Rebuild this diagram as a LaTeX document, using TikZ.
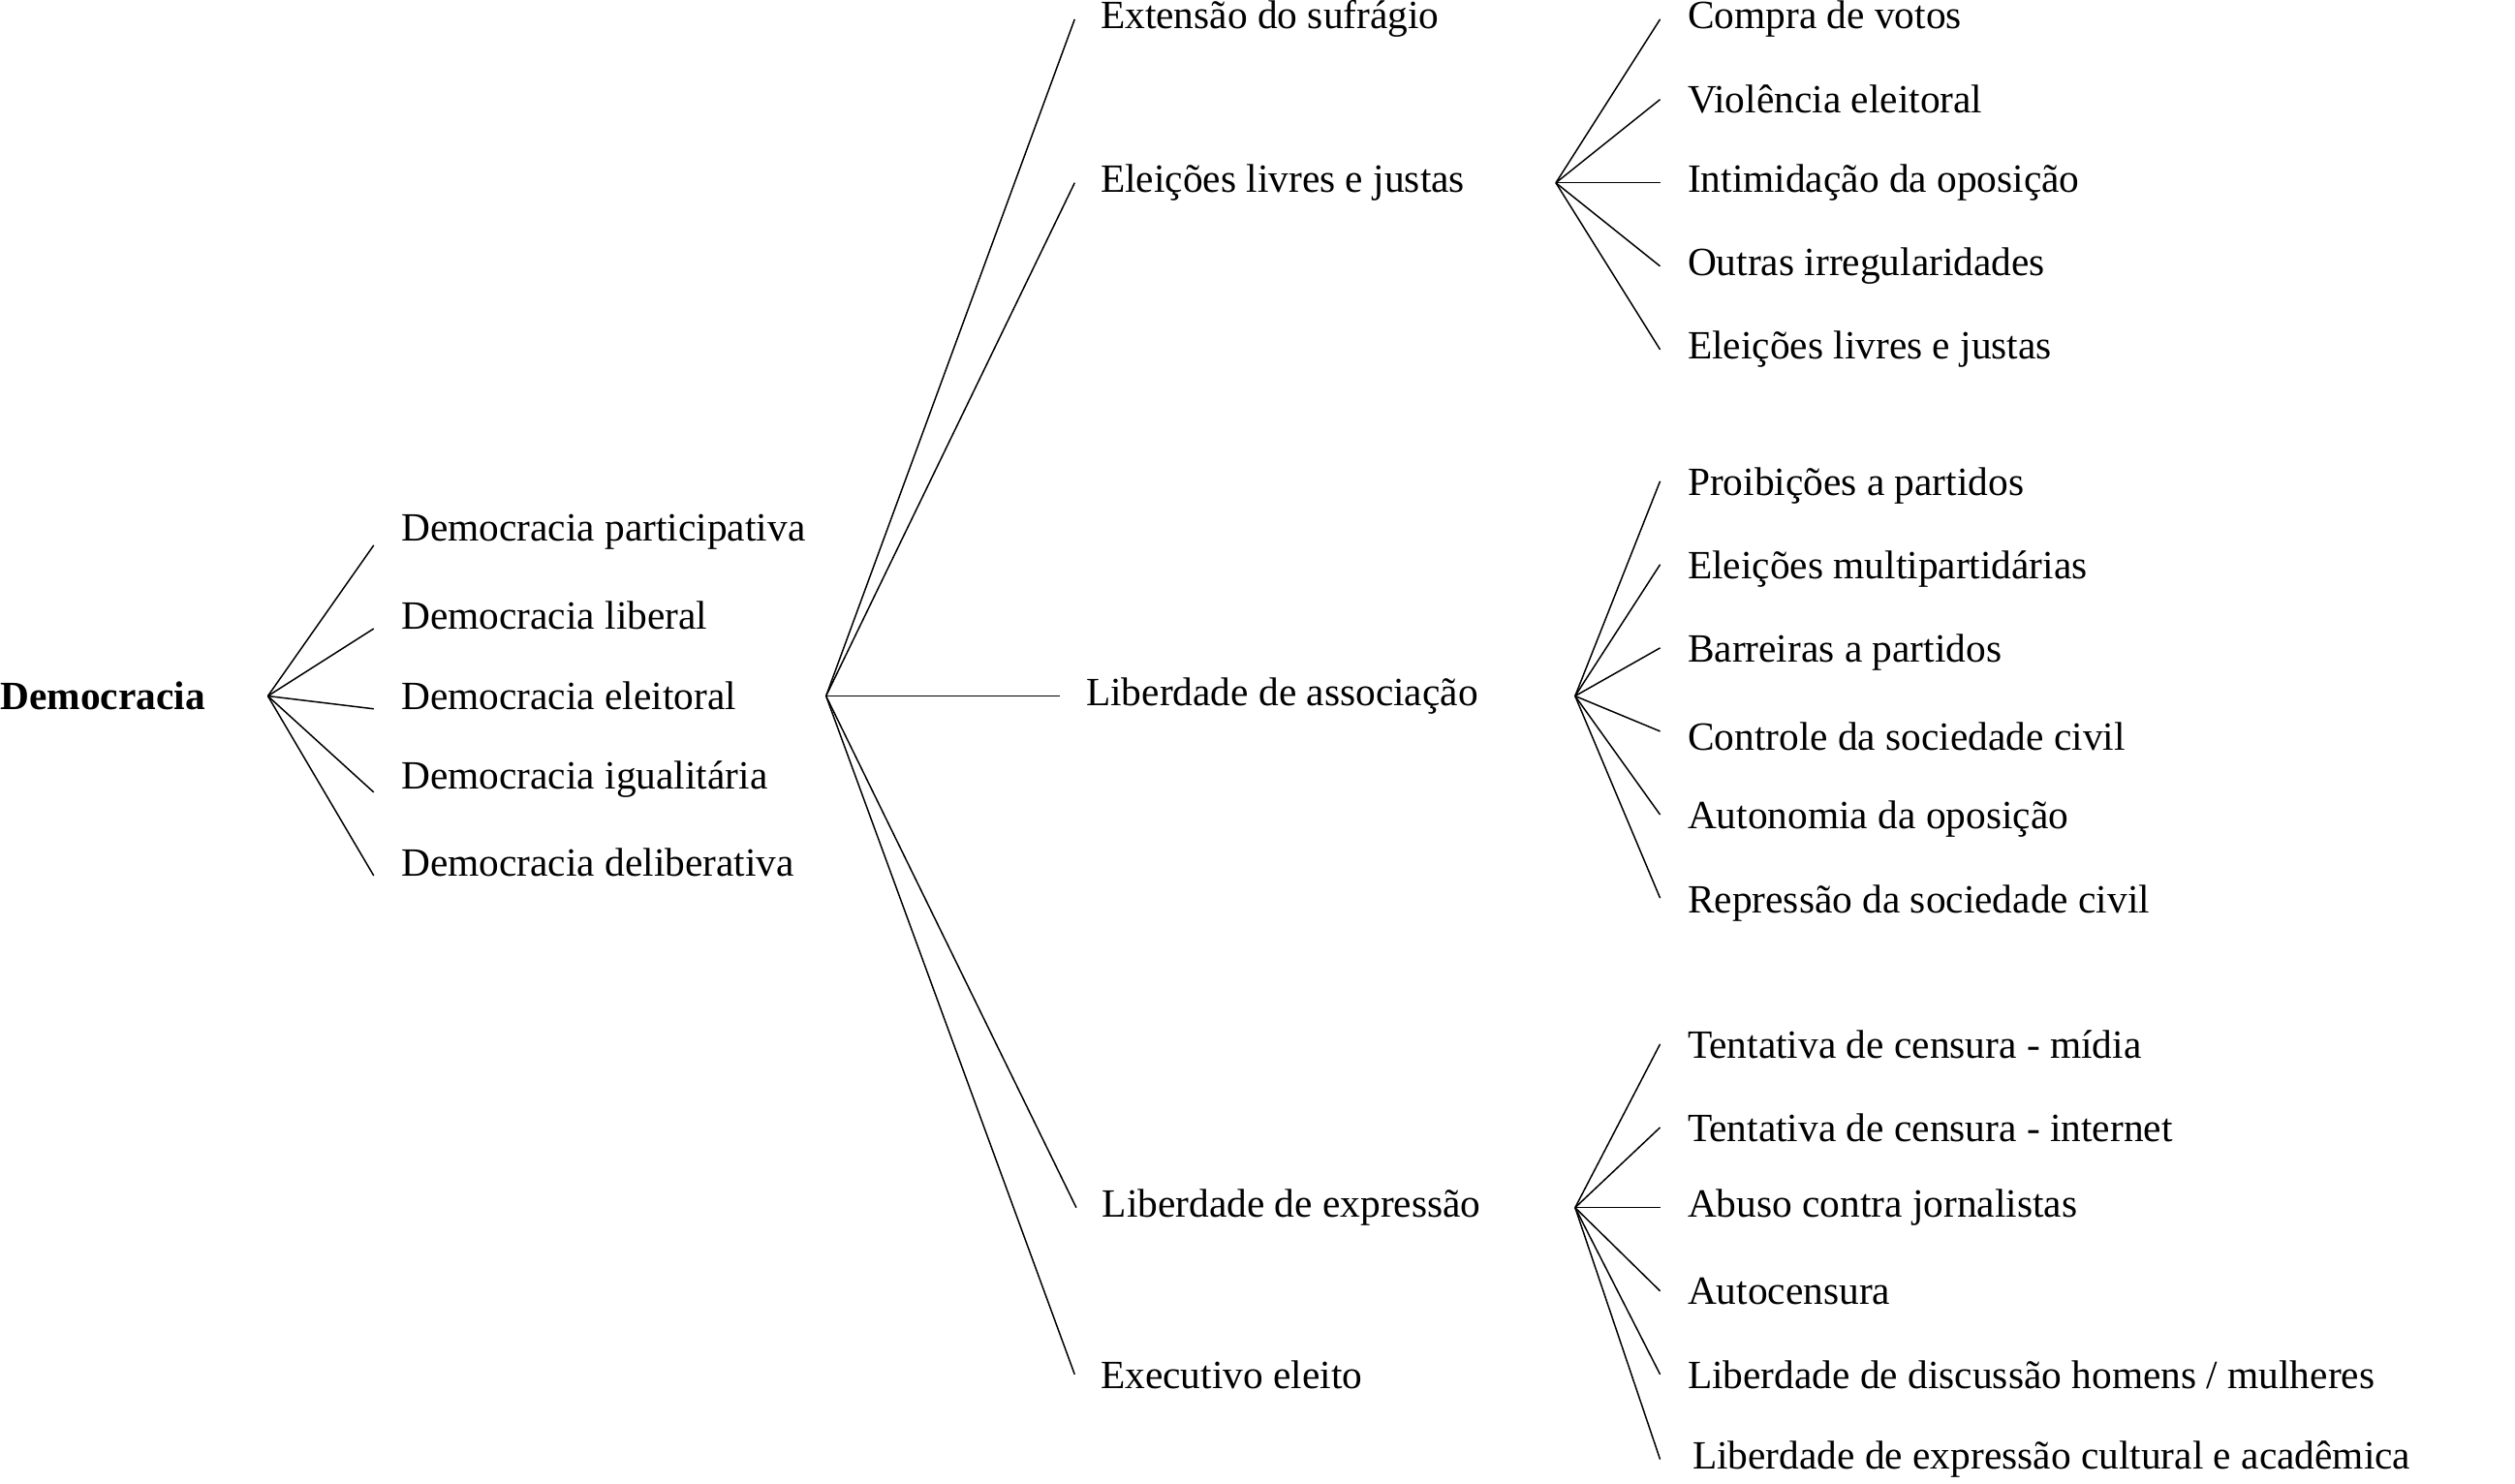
\documentclass[tikz,border=0pt]{standalone}
\usepackage{fontspec}
\setmainfont{Liberation Serif}
\begin{document}
\begin{tikzpicture}[x=1pt,y=-1pt,
  lab/.style={anchor=west,inner sep=0pt,font=\fontsize{25}{28}\selectfont},
  edge/.style={line width=0.9pt}]
\useasboundingbox (0,0) rectangle (1568,925);
\node[lab,font=\fontsize{25}{28}\selectfont\bfseries] (root) at (0,434) {Democracia};
\coordinate (f0) at (167,434);
\node[lab] (a1) at (250,332) {Democracia participativa};
\node[lab] (a2) at (250,384) {Democracia liberal};
\node[lab] (a3) at (250,434) {Democracia eleitoral};
\node[lab] (a4) at (250,486) {Democracia igualitária};
\node[lab] (a5) at (250,538) {Democracia deliberativa};
\foreach \n in {a1,a2,a3,a4,a5} \draw[edge] (f0) -- ([xshift=-17pt,yshift=-8pt]\n.west);
\coordinate (f1) at (515,434);
\node[lab] (b1) at (686,12) {Extensão do sufrágio};
\node[lab] (b2) at (686,114) {Eleições livres e justas};
\node[lab] (b3) at (677,434) {Liberdade de associação};
\node[lab] (b4) at (687,753) {Liberdade de expressão};
\node[lab] (b5) at (686,857) {Executivo eleito};
\foreach \n in {b1,b2,b3,b4,b5} \draw[edge] (f1) -- ([xshift=-16pt]\n.west);
\coordinate (f2) at (970,114);
\node[lab] (c1) at (1052,12) {Compra de votos};
\node[lab] (c2) at (1052,62) {Violência eleitoral};
\node[lab] (c3) at (1052,114) {Intimidação da oposição};
\node[lab] (c4) at (1052,166) {Outras irregularidades};
\node[lab] (c5) at (1052,218) {Eleições livres e justas};
\foreach \n in {c1,c2,c3,c4,c5} \draw[edge] (f2) -- ([xshift=-17pt]\n.west);
\coordinate (f3) at (982,434);
\node[lab] (d1) at (1052,303) {Proibições a partidos};
\node[lab] (d2) at (1052,355) {Eleições multipartidárias};
\node[lab] (d3) at (1052,407) {Barreiras a partidos};
\node[lab] (d4) at (1052,459) {Controle da sociedade civil};
\node[lab] (d5) at (1052,511) {Autonomia da oposição};
\node[lab] (d6) at (1052,563) {Repressão da sociedade civil};
\foreach \n in {d1,d2,d3,d4,d5,d6} \draw[edge] (f3) -- ([xshift=-17pt,yshift=3pt]\n.west);
\coordinate (f4) at (982,753);
\node[lab] (e1) at (1052,651) {Tentativa de censura - mídia};
\node[lab] (e2) at (1052,703) {Tentativa de censura - internet};
\node[lab] (e3) at (1052,753) {Abuso contra jornalistas};
\node[lab] (e4) at (1052,805) {Autocensura};
\node[lab] (e5) at (1052,857) {Liberdade de discussão homens / mulheres};
\node[lab] (e6) at (1055,910) {Liberdade de expressão cultural e acadêmica};
\foreach \n in {e1,e2,e3,e4,e5} \draw[edge] (f4) -- ([xshift=-17pt]\n.west);
\draw[edge] (f4) -- ([xshift=-20pt]e6.west);
\end{tikzpicture}
\end{document}
